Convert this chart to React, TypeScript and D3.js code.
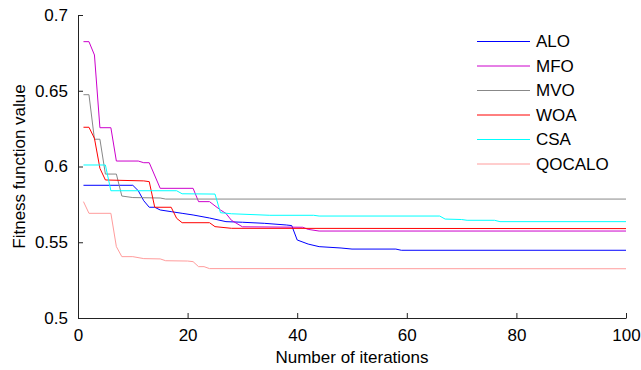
import { useEffect, useRef } from "react";
import * as d3 from "d3";

// ── Data (iteration, best fitness) change points ─────────────

type Pt = [number, number];

const ALO: Pt[] = [
  [1, 0.5876], [10, 0.5876], [11, 0.584], [12, 0.5774], [13, 0.5731], [14, 0.5731],
  [15, 0.5713], [17, 0.5702], [19, 0.5691], [21, 0.568], [24, 0.566], [27, 0.5636],
  [30, 0.5632], [34, 0.5625], [38, 0.5614], [39, 0.561], [40, 0.5515], [42, 0.5488],
  [44, 0.5471], [48, 0.5462], [50, 0.5455], [58, 0.5455], [59, 0.5447], [100, 0.5447],
];

const MFO: Pt[] = [
  [1, 0.6824], [2, 0.6824], [3, 0.6736], [4, 0.6256], [6, 0.6256], [7, 0.6036],
  [11, 0.6036], [12, 0.6025], [13, 0.6025], [15, 0.5856], [21, 0.5856], [22, 0.5768],
  [24, 0.5768], [25, 0.574], [26, 0.5713], [27, 0.569], [28, 0.5645], [30, 0.5602],
  [41, 0.5599], [42, 0.5585], [44, 0.5574], [100, 0.5574],
];

const MVO: Pt[] = [
  [1, 0.6474], [2, 0.6474], [3, 0.618], [4, 0.618], [5, 0.595], [7, 0.595],
  [8, 0.5805], [10, 0.5795], [15, 0.5792], [16, 0.5785], [100, 0.5785],
];

const WOA: Pt[] = [
  [1, 0.6259], [2, 0.6259], [3, 0.6186], [4, 0.5988], [5, 0.5911], [12, 0.5905],
  [13, 0.59], [14, 0.5731], [17, 0.5731], [18, 0.5658], [19, 0.5629], [24, 0.5629],
  [25, 0.5603], [28, 0.5592], [100, 0.559],
];

const CSA: Pt[] = [
  [1, 0.601], [5, 0.601], [6, 0.584], [18, 0.584], [19, 0.582], [25, 0.5818],
  [26, 0.5695], [28, 0.5688], [35, 0.5678], [43, 0.5678], [44, 0.5673], [66, 0.5673],
  [67, 0.5653], [70, 0.565], [71, 0.5645], [76, 0.5645], [77, 0.5636], [100, 0.5636],
];

const QOCALO: Pt[] = [
  [1, 0.5768], [2, 0.5691], [6, 0.5691], [7, 0.5471], [8, 0.5405], [10, 0.5405],
  [12, 0.5392], [15, 0.539], [16, 0.5378], [20, 0.5376], [21, 0.5372], [22, 0.5339],
  [23, 0.5339], [24, 0.5326], [100, 0.5325],
];

const SERIES_NAMES = ["ALO", "MFO", "MVO", "WOA", "CSA", "QOCALO"];
const SERIES_DATA = [ALO, MFO, MVO, WOA, CSA, QOCALO];
const SERIES_COLORS = ["#0000ff", "#cc00cc", "#888888", "#ff0000", "#00ffff", "#ff9c9c"];

const X_TICKS = [0, 20, 40, 60, 80, 100];
const Y_TICKS = [0.5, 0.55, 0.6, 0.65, 0.7];

// ── Layout ───────────────────────────────────────────────

const W = 641;
const H = 370;
const M = { left: 78, right: 15, top: 15, bottom: 52 };
const FONT = "'Liberation Sans', Arial, Helvetica, sans-serif";
const FS = "17px";

export default function App() {
  const svgRef = useRef<SVGSVGElement>(null);

  useEffect(() => {
    if (!svgRef.current) return;
    const svg = d3.select(svgRef.current);
    svg.selectAll("*").remove();

    const x = d3.scaleLinear().domain([0, 100]).range([M.left, W - M.right]);
    const y = d3.scaleLinear().domain([0.5, 0.7]).range([H - M.bottom, M.top]);

    // series
    const line = d3
      .line<Pt>()
      .x((d) => x(d[0]))
      .y((d) => y(d[1]));

    SERIES_DATA.forEach((data, i) => {
      svg
        .append("path")
        .datum(data)
        .attr("fill", "none")
        .attr("stroke", SERIES_COLORS[i])
        .attr("stroke-width", 1)
        .attr("d", line);
    });

    // axes (ticks pointing inward, no box)
    const xAxis = svg
      .append("g")
      .attr("transform", `translate(0,${H - M.bottom})`)
      .call(
        d3
          .axisBottom(x)
          .tickValues(X_TICKS)
          .tickSizeInner(-5)
          .tickSizeOuter(0)
          .tickPadding(11)
          .tickFormat(d3.format("d"))
      );
    const yAxis = svg
      .append("g")
      .attr("transform", `translate(${M.left},0)`)
      .call(
        d3
          .axisLeft(y)
          .tickValues(Y_TICKS)
          .tickSizeInner(-5)
          .tickSizeOuter(0)
          .tickPadding(10)
          .tickFormat((d) => String(+d))
      );

    [xAxis, yAxis].forEach((g) => {
      g.select(".domain").attr("stroke", "#222").attr("stroke-width", 1);
      g.selectAll(".tick line").attr("stroke", "#222");
      g.selectAll(".tick text")
        .attr("fill", "#000")
        .style("font-family", FONT)
        .style("font-size", FS);
    });

    // labels
    svg
      .append("text")
      .attr("x", (M.left + W - M.right) / 2)
      .attr("y", 363)
      .attr("text-anchor", "middle")
      .style("font-family", FONT)
      .style("font-size", FS)
      .text("Number of iterations");

    svg
      .append("text")
      .attr("transform", `translate(25,${(M.top + H - M.bottom) / 2}) rotate(-90)`)
      .attr("text-anchor", "middle")
      .style("font-family", FONT)
      .style("font-size", FS)
      .text("Fitness function value");

    // legend
    const legend = svg.append("g");
    SERIES_NAMES.forEach((name, i) => {
      const ly = 41.5 + i * 24.5;
      legend
        .append("line")
        .attr("x1", 477)
        .attr("x2", 530)
        .attr("y1", ly)
        .attr("y2", ly)
        .attr("stroke", SERIES_COLORS[i])
        .attr("stroke-width", 1);
      legend
        .append("text")
        .attr("x", 536)
        .attr("y", ly)
        .attr("dy", "0.35em")
        .style("font-family", FONT)
        .style("font-size", FS)
        .text(name);
    });
  }, []);

  return (
    <svg
      ref={svgRef}
      width={W}
      height={H}
      style={{ position: "absolute", left: 0, top: 0, background: "#fff" }}
    />
  );
}
